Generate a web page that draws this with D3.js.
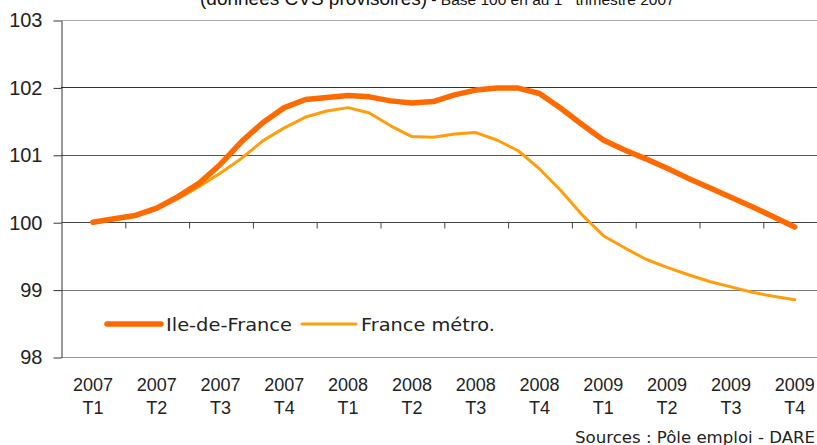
<!DOCTYPE html>
<html>
<head>
<meta charset="utf-8">
<script src="https://cdn.jsdelivr.net/npm/d3@7"></script>
<style>
  body { margin: 0; background: #fff; }
  svg { display: block; }
</style>
</head>
<body>
<div id="chart"></div>
<script>
// quarter labels on the category axis
let year_labels = ["2007", "2007", "2007", "2007", "2008", "2008", "2008", "2008", "2009", "2009", "2009", "2009"];
let quarter_labels = ["T1", "T2", "T3", "T4", "T1", "T2", "T3", "T4", "T1", "T2", "T3", "T4"];
let y_ticks = [98, 99, 100, 101, 102, 103];

// monthly values, month 0 = 2007 T1 ... month 33 = 2009 T4
let idf_values = [100.00, 100.05, 100.10, 100.21, 100.38, 100.58, 100.86, 101.20, 101.48, 101.70,
                  101.82, 101.85, 101.88, 101.86, 101.80, 101.77, 101.79, 101.89, 101.96, 101.99,
                  101.99, 101.91, 101.69, 101.45, 101.22, 101.07, 100.94, 100.80, 100.65, 100.51,
                  100.37, 100.23, 100.08, 99.93];
let fr_values = [100.00, 100.04, 100.09, 100.19, 100.35, 100.53, 100.73, 100.95, 101.21, 101.40,
                 101.56, 101.65, 101.70, 101.62, 101.43, 101.27, 101.26, 101.31, 101.33, 101.22,
                 101.06, 100.79, 100.47, 100.11, 99.80, 99.62, 99.45, 99.33, 99.22, 99.12,
                 99.04, 98.96, 98.90, 98.85];
let series_names = ["Ile-de-France", "France métro."];

let chart_width = 817;
let chart_height = 445;

let margin_left = 61;
let margin_top = 20;
let plot_bottom = 357;
let band_w = 63.8;

let svg = d3.select("#chart")
            .append("svg")
            .attr("width", chart_width)
            .attr("height", chart_height);

let yScale = d3.scaleLinear()
                .domain([98, 103])
                .range([plot_bottom, margin_top]);

// quarter position scale (0..12 quarters), ticks sit at band boundaries
let qScale = d3.scaleLinear()
                .domain([0, 12])
                .range([margin_left, margin_left + 12 * band_w]);

// month index -> x (3 months per quarter, centered in the band)
let mScale = d3.scaleLinear()
                .domain([0, 33])
                .range([qScale(0.5), qScale(11.5)]);

// title, cut off at the top like in the source image
let title = svg.append("text")
    .attr("x", 200)
    .attr("y", 5)
    .attr("font-family", "Liberation Sans, Arial, sans-serif")
    .attr("fill", "#111");
title.append("tspan")
    .attr("font-size", "19px")
    .text("(données CVS provisoires)");
title.append("tspan")
    .attr("font-size", "15.5px")
    .text(" - Base 100 en au 1");
title.append("tspan")
    .attr("font-size", "10px")
    .attr("dy", -7)
    .text("er");
title.append("tspan")
    .attr("font-size", "15.5px")
    .attr("dy", 7)
    .text(" trimestre 2007");

// gridlines
let grid_colors = {98: "#9a9a9a", 99: "#777", 101: "#555", 102: "#333", 103: "#aaa"};
svg.selectAll(".grid")
    .data(y_ticks.filter(d => d !== 100))
    .enter()
    .append("line")
    .attr("class", "grid")
    .attr("x1", margin_left)
    .attr("x2", chart_width)
    .attr("y1", d => Math.round(yScale(d)) + 0.5)
    .attr("y2", d => Math.round(yScale(d)) + 0.5)
    .attr("stroke", d => grid_colors[d])
    .attr("stroke-width", 1);

// y axis
let y_axis = svg.append("g")
    .attr("transform", "translate(" + (margin_left + 0.5) + ",0.5)")
    .call(d3.axisLeft(yScale).tickValues(y_ticks).tickFormat(d3.format("d"))
            .tickSize(8).tickPadding(11).tickSizeOuter(0));
y_axis.select(".domain").attr("stroke", "#333");
y_axis.selectAll(".tick line").attr("stroke", "#333");
y_axis.selectAll(".tick text")
    .attr("font-family", "Liberation Sans, Arial, sans-serif")
    .attr("font-size", "20px")
    .attr("fill", "#222");

// x axis crossing at 100
let x_axis = svg.append("g")
    .attr("transform", "translate(0.5," + (Math.round(yScale(100)) + 0.5) + ")")
    .call(d3.axisBottom(qScale).tickValues(d3.range(1, 12)).tickSize(6).tickFormat("").tickSizeOuter(0));
x_axis.select(".domain").attr("d", "M" + margin_left + ",0H" + chart_width).attr("stroke", "#444");
x_axis.selectAll(".tick line").attr("stroke", "#444");

// category labels under the plot
let labels = svg.selectAll(".xlab")
    .data(year_labels)
    .enter()
    .append("g")
    .attr("class", "xlab")
    .attr("transform", (d, i) => "translate(" + qScale(i + 0.5) + ",0)");
labels.append("text")
    .attr("y", 391)
    .attr("text-anchor", "middle")
    .attr("font-family", "Liberation Sans, Arial, sans-serif")
    .attr("font-size", "18px")
    .attr("fill", "#222")
    .text(d => d);
labels.append("text")
    .attr("y", 414)
    .attr("text-anchor", "middle")
    .attr("font-family", "Liberation Sans, Arial, sans-serif")
    .attr("font-size", "18px")
    .attr("fill", "#222")
    .text((d, i) => quarter_labels[i]);

// lines
let line = d3.line()
    .x((d, i) => mScale(i))
    .y(d => yScale(d));

svg.append("path")
    .datum(fr_values)
    .attr("fill", "none")
    .attr("stroke", "#ff9e0c")
    .attr("stroke-width", 3)
    .attr("stroke-linejoin", "round")
    .attr("stroke-linecap", "round")
    .attr("d", line);

svg.append("path")
    .datum(idf_values)
    .attr("fill", "none")
    .attr("stroke", "#ff6a00")
    .attr("stroke-width", 5.5)
    .attr("stroke-linejoin", "round")
    .attr("stroke-linecap", "round")
    .attr("d", line);

// legend
let legend_items = [
    {name: series_names[0], color: "#ff6a00", w: 5.5, x: 107, text_w: 126},
    {name: series_names[1], color: "#ff9e0c", w: 3, x: 302, text_w: 134}
];
let legend = svg.selectAll(".legend")
    .data(legend_items)
    .enter()
    .append("g")
    .attr("class", "legend")
    .attr("transform", d => "translate(" + d.x + ",324)");
legend.append("line")
    .attr("x1", 0)
    .attr("x2", 54)
    .attr("stroke", d => d.color)
    .attr("stroke-width", d => d.w)
    .attr("stroke-linecap", "round");
legend.append("text")
    .attr("x", 59)
    .attr("y", 7)
    .attr("font-family", "DejaVu Sans, sans-serif")
    .attr("font-size", "18px")
    .attr("fill", "#222")
    .attr("textLength", d => d.text_w)
    .attr("lengthAdjust", "spacingAndGlyphs")
    .text(d => d.name);

// source note
svg.append("text")
    .attr("x", 815)
    .attr("y", 443)
    .attr("text-anchor", "end")
    .attr("font-family", "DejaVu Sans, sans-serif")
    .attr("font-size", "16px")
    .attr("fill", "#222")
    .attr("textLength", 240)
    .attr("lengthAdjust", "spacingAndGlyphs")
    .text("Sources : Pôle emploi - DARE");
</script>
</body>
</html>
